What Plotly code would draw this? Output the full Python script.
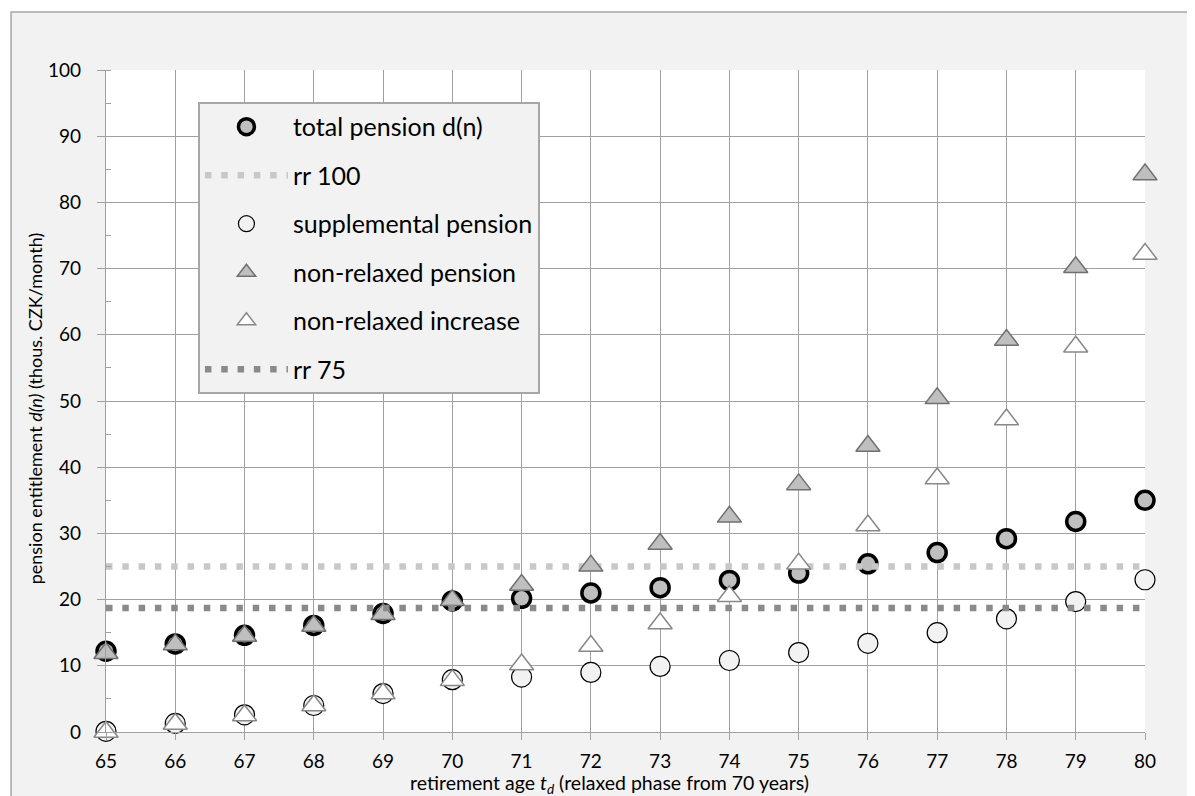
import plotly.graph_objects as go

ages = list(range(65, 81))
total_pension = [12.2, 13.3, 14.6, 16.1, 17.9, 19.8, 20.2, 21.0, 21.8, 22.9, 24.0, 25.4, 27.1, 29.2, 31.8, 35.0]
supplemental_pension = [0.1, 1.3, 2.6, 4.0, 5.8, 7.9, 8.3, 9.0, 9.9, 10.8, 12.0, 13.4, 15.0, 17.1, 19.7, 23.0]
nonrelaxed_pension = [11.9, 13.2, 14.5, 16.0, 17.8, 19.9, 22.2, 25.1, 28.4, 32.5, 37.4, 43.2, 50.4, 59.2, 70.2, 84.2]
nonrelaxed_increase = [0.0, 1.2, 2.5, 4.0, 5.8, 7.8, 10.2, 13.0, 16.4, 20.5, 25.4, 31.2, 38.3, 47.2, 58.2, 72.2]
rr100_value = 25.0
rr75_value = 18.75
rr_x = [65, 80]

FONT = "Lato"

fig = go.Figure()

fig.add_trace(go.Scatter(
    x=ages, y=total_pension, mode="markers", name="total pension d(n)",
    legendgroup="a",
    marker=dict(symbol="circle", size=18, color="#bfbfbf", line=dict(color="#000000", width=3.5)),
    cliponaxis=False))
fig.add_trace(go.Scatter(
    x=rr_x, y=[rr100_value] * len(rr_x), mode="lines", name="rr 100",
    legendgroup="b",
    line=dict(color="#c8c8c8", width=6.5, dash="6.5px,9.8px")))
fig.add_trace(go.Scatter(
    x=ages, y=supplemental_pension, mode="markers", name="supplemental pension",
    legendgroup="c",
    marker=dict(symbol="circle", size=20, color="#f2f2f2", line=dict(color="#000000", width=1.2)),
    cliponaxis=False))
fig.add_trace(go.Scatter(
    x=ages, y=nonrelaxed_pension, mode="markers", name="non-relaxed pension",
    legendgroup="d",
    marker=dict(symbol="triangle-up", size=21, color="#bfbfbf", line=dict(color="#707070", width=1.5)),
    cliponaxis=False))
fig.add_trace(go.Scatter(
    x=ages, y=nonrelaxed_increase, mode="markers", name="non-relaxed increase",
    legendgroup="e",
    marker=dict(symbol="triangle-up", size=21, color="#ffffff", line=dict(color="#888888", width=1.5)),
    cliponaxis=False))
fig.add_trace(go.Scatter(
    x=rr_x, y=[rr75_value] * len(rr_x), mode="lines", name="rr 75",
    legendgroup="f",
    line=dict(color="#8a8a8a", width=6.5, dash="6.5px,9.8px")))

grid_col = "#a0a0a0"

# page body adds an 8px offset; margins compensate so the plot area lands at 106..1145 x 70..732
fig.update_layout(
    width=1195, height=796,
    margin=dict(l=98, r=58, t=62, b=72),
    paper_bgcolor="#ffffff",
    plot_bgcolor="rgba(0,0,0,0)",
    font=dict(family=FONT, color="#000000"),
    showlegend=True,
    legend=dict(
        x=0.0885, y=0.9517, xanchor="left", yanchor="top",
        bgcolor="#f2f2f2", bordercolor="#a6a6a6", borderwidth=2,
        font=dict(family=FONT, size=25, color="#000000"),
        itemsizing="trace", itemwidth=83, tracegroupgap=13,
    ),
    xaxis=dict(
        range=[65, 80], dtick=1, tick0=65,
        showgrid=True, gridcolor=grid_col, gridwidth=1.3,
        showline=True, linecolor=grid_col, linewidth=1.3,
        ticks="outside", ticklen=7, tickcolor=grid_col, tickwidth=1.3,
        zeroline=False, ticklabelstandoff=5,
        tickfont=dict(family=FONT, size=19, color="#000000"),
    ),
    yaxis=dict(
        range=[0, 100], dtick=10, tick0=0,
        showgrid=True, gridcolor=grid_col, gridwidth=1.3,
        showline=True, linecolor=grid_col, linewidth=1.3,
        ticks="outside", ticklen=8, tickcolor=grid_col, tickwidth=1.3,
        zeroline=False, ticklabelstandoff=12,
        minor=dict(dtick=5, tick0=0, ticks="inside", ticklen=5, tickcolor=grid_col, tickwidth=1.3, showgrid=False),
        tickfont=dict(family=FONT, size=19, color="#000000"),
    ),
    shapes=[
        dict(type="rect", xref="paper", yref="paper", x0=-0.0914, x1=1.06, y0=-0.13, y1=1.0876,
             fillcolor="#f2f2f2", line=dict(color="#a6a6a6", width=1.5), layer="below"),
        dict(type="rect", xref="x domain", yref="y domain", x0=0, x1=1, y0=0, y1=1,
             fillcolor="#ffffff", line=dict(width=0), layer="below"),
    ],
    annotations=[
        dict(text="retirement age <i>t<sub>d</sub></i> (relaxed phase from 70 years)",
             xref="paper", yref="paper", x=0.485, y=-0.078, xanchor="center", yanchor="middle",
             showarrow=False, font=dict(family=FONT, size=19.5, color="#000000")),
        dict(text="pension entitlement <i>d(n)</i> (thous. CZK/month)",
             xref="paper", yref="paper", x=-0.0683, y=0.489, xanchor="center", yanchor="middle",
             textangle=-90, showarrow=False, font=dict(family=FONT, size=18, color="#000000")),
    ],
)

fig.write_html("out.html")
